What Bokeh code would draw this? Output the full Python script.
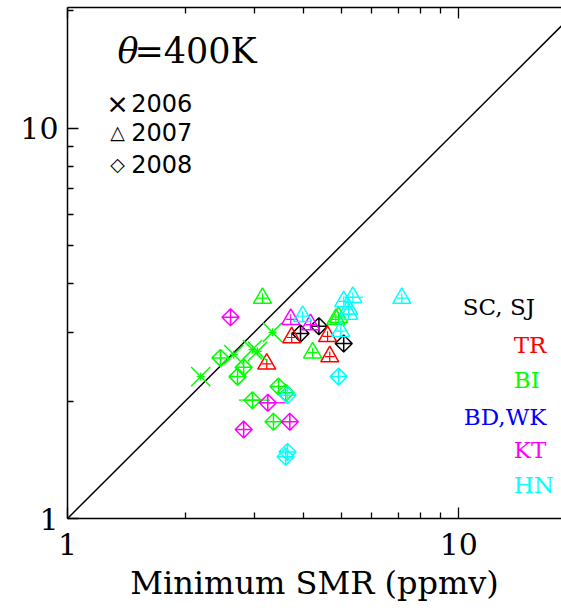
import math
from bokeh.plotting import figure
from bokeh.models import Label, LogAxis, FixedTicker, CustomJSTickFormatter
from bokeh.embed import file_html
from bokeh.resources import INLINE

# ---------------- data ----------------
x_range = (1, 18.3)
y_range = (1, 20.4)
major_ticks = [1, 10]
minor_ticks = [2, 3, 4, 5, 6, 7, 8, 9, 20]
diag_x = [1, 20]
diag_y = [1, 20]

sites = ["SC, SJ", "TR", "BI", "BD,WK", "KT", "HN"]
site_colors = ["#000000", "#FF0000", "#00FF00", "#0000FF", "#FF00FF", "#00FFFF"]
years = ["2006", "2007", "2008"]
year_symbols = ["×", "△", "◇"]

# SC, SJ
sc_2008_x = [3.94, 4.39, 5.08]
sc_2008_y = [2.98, 3.11, 2.81]
# TR
tr_2007_x = [3.23, 3.74, 4.62, 4.68]
tr_2007_y = [2.49, 2.91, 2.93, 2.60]
# BI
bi_2006_x = [2.19, 2.66, 2.97, 3.06, 3.34]
bi_2006_y = [2.31, 2.63, 2.71, 2.68, 3.00]
bi_2007_x = [3.15, 4.23, 4.93, 4.85]
bi_2007_y = [3.67, 2.66, 3.28, 3.24]
bi_2008_x = [2.46, 2.82, 2.72, 3.46, 2.97, 3.36, 3.61]
bi_2008_y = [2.58, 2.44, 2.31, 2.18, 2.01, 1.77, 2.10]
# KT
kt_2007_x = [3.72, 4.18]
kt_2007_y = [3.24, 3.14]
kt_2008_x = [2.61, 3.25, 2.82, 3.70]
kt_2008_y = [3.28, 1.98, 1.69, 1.77]
# HN
hn_2007_x = [3.99, 5.08, 5.36, 5.23, 5.23, 4.99, 7.15]
hn_2007_y = [3.30, 3.60, 3.69, 3.44, 3.34, 3.02, 3.67]
hn_2008_x = [3.65, 3.65, 3.61, 4.93]
hn_2008_y = [2.07, 1.48, 1.44, 2.31]

# a few longer horizontal error bars
ebar_x0 = [2.74, 3.25, 5.10]
ebar_x1 = [3.30, 3.61, 5.68]
ebar_y = [2.01, 1.98, 3.69]
ebar_color = ["#00FF00", "#FF00FF", "#00FFFF"]

groups = [
    # (x, y, year, color)
    (sc_2008_x, sc_2008_y, "2008", site_colors[0]),
    (tr_2007_x, tr_2007_y, "2007", site_colors[1]),
    (bi_2006_x, bi_2006_y, "2006", site_colors[2]),
    (bi_2007_x, bi_2007_y, "2007", site_colors[2]),
    (bi_2008_x, bi_2008_y, "2008", site_colors[2]),
    (kt_2007_x, kt_2007_y, "2007", site_colors[4]),
    (kt_2008_x, kt_2008_y, "2008", site_colors[4]),
    (hn_2007_x, hn_2007_y, "2007", site_colors[5]),
    (hn_2008_x, hn_2008_y, "2008", site_colors[5]),
]

# ---------------- figure ----------------
p = figure(width=561, height=611, x_axis_type="log", y_axis_type="log",
           x_range=x_range, y_range=y_range, output_backend="svg",
           toolbar_location=None, min_border_left=67, min_border_right=0,
           min_border_top=7, min_border_bottom=93)
p.grid.visible = False
p.outline_line_color = None
p.background_fill_color = "white"
p.border_fill_color = "white"

SERIF = "DejaVu Serif"

bottom_axis = p.below[0]
left_axis = p.left[0]
top_axis = LogAxis()
p.add_layout(top_axis, "above")

for ax in [bottom_axis, left_axis, top_axis]:
    ax.ticker = FixedTicker(ticks=major_ticks, minor_ticks=minor_ticks)
    ax.formatter = CustomJSTickFormatter(code="return Math.round(tick).toString();")
    ax.major_tick_in = 11
    ax.major_tick_out = 0
    ax.minor_tick_in = 6
    ax.minor_tick_out = 0
    ax.axis_line_width = 1.5
    ax.major_tick_line_width = 1.3
    ax.minor_tick_line_width = 1.3
    ax.axis_line_color = "black"
    ax.major_tick_line_color = "black"
    ax.minor_tick_line_color = "black"
    ax.major_label_text_font = SERIF
    ax.major_label_text_font_size = "30px"
    ax.major_label_text_color = "black"

top_axis.formatter = CustomJSTickFormatter(code="return '';")
top_axis.major_label_standoff = 0

bottom_axis.major_label_standoff = 14
left_axis.major_label_standoff = 9
bottom_axis.axis_label = "Minimum SMR (ppmv)"
bottom_axis.axis_label_text_font = SERIF
bottom_axis.axis_label_text_font_size = "32px"
bottom_axis.axis_label_text_font_style = "normal"
bottom_axis.axis_label_text_color = "black"
bottom_axis.axis_label_standoff = 6

# 1:1 line
p.line(diag_x, diag_y, line_color="black", line_width=1.5)

# error bars
p.segment(x0=ebar_x0, y0=ebar_y, x1=ebar_x1, y1=ebar_y,
          line_color=ebar_color, line_width=1.3)

for xs, ys, yr, col in groups:
    if yr == "2006":
        p.scatter(xs, ys, marker="x", size=27, line_color=col, line_width=1.5)
        p.scatter(xs, ys, marker="cross", size=8, line_color=col, line_width=1.2)
    elif yr == "2007":
        p.scatter(xs, ys, marker="triangle", size=18, line_color=col,
                  fill_color=None, line_width=1.5)
        p.scatter(xs, ys, marker="cross", size=10, line_color=col, line_width=1.2)
    else:
        p.scatter(xs, ys, marker="square_x", size=12, angle=math.pi / 4,
                  line_color=col, fill_color=None, line_width=1.5)

# year key (symbols as text)
key_y = [11.60, 9.765, 8.124]
key_sym_size = ["27px", "19px", "19px"]
for sym, yr, ky, fs in zip(year_symbols, years, key_y, key_sym_size):
    p.add_layout(Label(x=1.342, y=ky, text=sym, text_font="DejaVu Sans",
                       text_font_size=fs, text_align="center",
                       text_baseline="middle", text_color="black"))
    p.add_layout(Label(x=1.455, y=ky, text=yr, text_font="DejaVu Sans",
                       text_font_size="24px", text_align="left",
                       text_baseline="middle", text_color="black"))

# title label
p.add_layout(Label(x=1.342, y=15.75, text="θ", text_font=SERIF,
                   text_font_size="35px", text_font_style="italic",
                   text_baseline="middle", text_align="left", text_color="black"))
p.add_layout(Label(x=1.483, y=15.75, text="=400K", text_font=SERIF,
                   text_font_size="35px", text_baseline="middle",
                   text_align="left", text_color="black"))

# site labels
site_label_x = [10.24, 13.82, 13.82, 10.30, 13.82, 13.82]
site_label_y = [3.477, 2.792, 2.268, 1.821, 1.497, 1.216]
for name, col, lx, ly in zip(sites, site_colors, site_label_x, site_label_y):
    p.add_layout(Label(x=lx, y=ly, text=name, text_font=SERIF,
                       text_font_size="23px", text_color=col,
                       text_baseline="middle", text_align="left"))

open("out.html", "w").write(file_html(p, INLINE))
